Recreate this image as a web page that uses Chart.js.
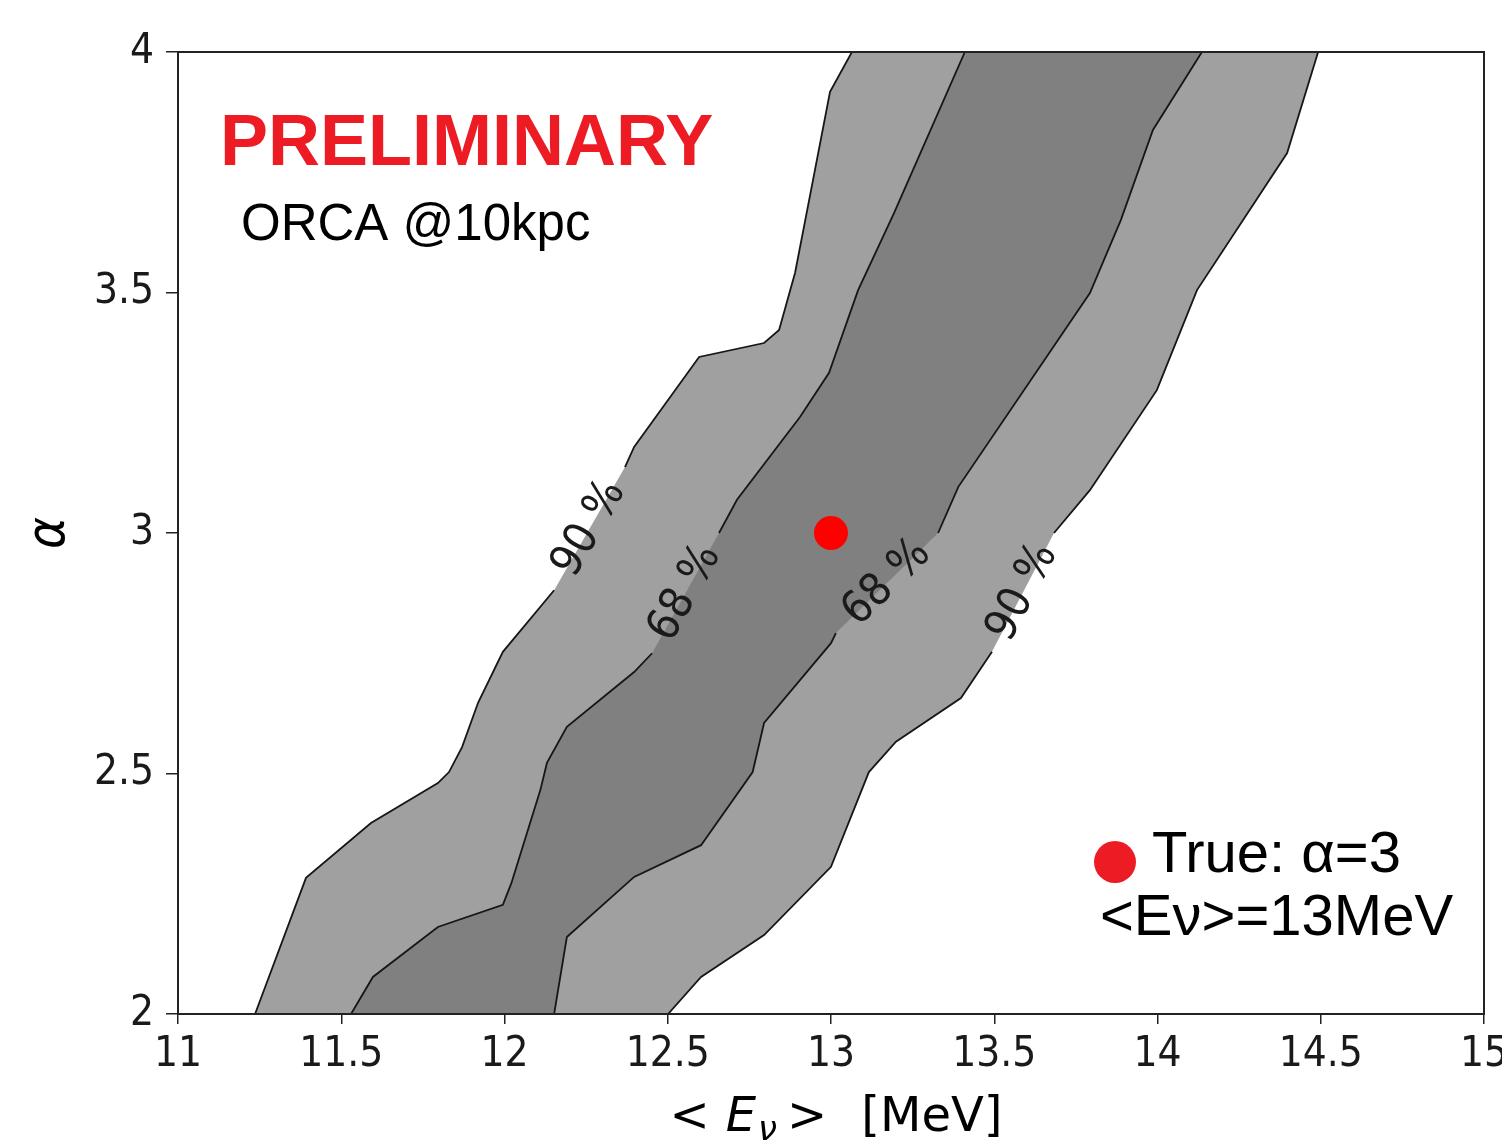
<!DOCTYPE html>
<html>
<head>
<meta charset="utf-8">
<script src="https://cdn.jsdelivr.net/npm/chart.js@4.4.1/dist/chart.umd.min.js"></script>
<style>
    html, body { margin: 0; padding: 0; background: #fff; }
    #contenedor { width: 1502px; height: 1143px; }
</style>
</head>
<body>
<div id="contenedor"><canvas id="graficoContorno"></canvas></div>
<script>
// Contorno 90 % - borde izquierdo (de abajo hacia arriba)
const c90IzqX = [11.236, 11.392, 11.591, 11.796, 11.830, 11.870, 11.919, 11.995, 12.152, 12.369, 12.397, 12.596, 12.795, 12.841, 12.890, 12.945, 12.997, 13.064];
const c90IzqY = [2.000, 2.283, 2.397, 2.480, 2.503, 2.555, 2.647, 2.753, 2.881, 3.137, 3.179, 3.366, 3.395, 3.422, 3.541, 3.734, 3.917, 4.000];
// Contorno 90 % - borde derecho
const c90DerX = [12.501, 12.602, 12.795, 13.000, 13.116, 13.199, 13.398, 13.493, 13.683, 13.793, 13.998, 14.121, 14.397, 14.492];
const c90DerY = [2.000, 2.077, 2.164, 2.306, 2.503, 2.566, 2.657, 2.753, 3.000, 3.089, 3.297, 3.505, 3.790, 4.000];
// Contorno 68 % - borde izquierdo
const c68IzqX = [11.530, 11.597, 11.796, 11.995, 12.021, 12.110, 12.130, 12.191, 12.397, 12.452, 12.657, 12.712, 12.905, 12.994, 13.083, 13.193, 13.410];
const c68IzqY = [2.000, 2.077, 2.181, 2.227, 2.272, 2.466, 2.522, 2.597, 2.711, 2.750, 3.000, 3.069, 3.241, 3.333, 3.505, 3.665, 4.000];
// Contorno 68 % - borde derecho
const c68DerX = [12.152, 12.191, 12.397, 12.602, 12.760, 12.795, 13.000, 13.015, 13.328, 13.390, 13.793, 13.888, 13.986, 14.136];
const c68DerY = [2.000, 2.160, 2.285, 2.351, 2.503, 2.605, 2.771, 2.792, 3.000, 3.096, 3.499, 3.651, 3.838, 4.000];

// Indice donde la linea se corta para la etiqueta
const huecos = [9, 8, 10, 8];        // c90Izq, c90Der, c68Izq, c68Der
const etiquetas = ['90 %', '90 %', '68 %', '68 %'];

// Valor verdadero
const verdadX = [13];
const verdadY = [3];

// Ticks
const ticksX = [11, 11.5, 12, 12.5, 13, 13.5, 14, 14.5, 15];
const ticksY = [2, 2.5, 3, 3.5, 4];

const fuenteEje = '"DejaVu Sans Condensed", "DejaVu Sans", sans-serif';
const fuenteTitulo = '"DejaVu Sans", sans-serif';
const fuenteTexto = '"Liberation Sans", Arial, sans-serif';

const bordes = [
    [c90IzqX, c90IzqY], [c90DerX, c90DerY],
    [c68IzqX, c68IzqY], [c68DerX, c68DerY]
];

function puntos(xs, ys) {
    return xs.map((x, i) => ({ x: x, y: ys[i] }));
}

// Linea con un hueco (null) para dejar sitio a la etiqueta
function puntosConHueco(xs, ys, hueco) {
    const p = puntos(xs, ys);
    p.splice(hueco, 0, { x: null, y: null });
    return p;
}

// Poligono cerrado: borde izquierdo subiendo y borde derecho bajando
function poligono(izqX, izqY, derX, derY) {
    return puntos(izqX, izqY).concat(puntos(derX, derY).reverse());
}

const datasets = [
    {
        label: 'verdad',
        data: puntos(verdadX, verdadY),
        pointRadius: 17,
        pointBackgroundColor: '#ff0000',
        pointBorderWidth: 0,
        order: 0
    }
];

bordes.forEach((b, i) => {
    datasets.push({
        label: 'borde' + i,
        data: puntosConHueco(b[0], b[1], huecos[i]),
        showLine: true,
        spanGaps: false,
        pointRadius: 0,
        borderColor: '#161616',
        borderWidth: 1.8,
        fill: false,
        order: 1
    });
});

datasets.push({
    label: '68',
    data: poligono(c68IzqX, c68IzqY, c68DerX, c68DerY),
    showLine: true,
    pointRadius: 0,
    borderWidth: 0,
    borderColor: 'rgba(0,0,0,0)',
    backgroundColor: '#808080',
    fill: 'shape',
    order: 2
});

datasets.push({
    label: '90',
    data: poligono(c90IzqX, c90IzqY, c90DerX, c90DerY),
    showLine: true,
    pointRadius: 0,
    borderWidth: 0,
    borderColor: 'rgba(0,0,0,0)',
    backgroundColor: '#a0a0a0',
    fill: 'shape',
    order: 3
});

// Etiquetas en linea de los contornos
const etiquetasContorno = {
    id: 'etiquetasContorno',
    afterDatasetsDraw(chart) {
        const ctx = chart.ctx;
        const sx = chart.scales.x, sy = chart.scales.y;
        ctx.save();
        ctx.fillStyle = '#1a1a1a';
        ctx.font = `45px ${fuenteEje}`;
        ctx.textAlign = 'center';
        ctx.textBaseline = 'middle';
        bordes.forEach((b, i) => {
            const h = huecos[i];
            const x1 = sx.getPixelForValue(b[0][h - 1]), y1 = sy.getPixelForValue(b[1][h - 1]);
            const x2 = sx.getPixelForValue(b[0][h]), y2 = sy.getPixelForValue(b[1][h]);
            ctx.save();
            ctx.translate((x1 + x2) / 2, (y1 + y2) / 2);
            ctx.rotate(Math.atan2(y2 - y1, x2 - x1));
            ctx.fillText(etiquetas[i], 0, 0);
            ctx.restore();
        });
        ctx.restore();
    }
};

// Marco, textos y leyenda
const decoracion = {
    id: 'decoracion',
    afterDraw(chart) {
        const ctx = chart.ctx;
        const a = chart.chartArea;
        ctx.save();
        ctx.strokeStyle = '#222';
        ctx.lineWidth = 2;
        ctx.strokeRect(a.left, a.top, a.right - a.left, a.bottom - a.top);

        ctx.textAlign = 'left';
        ctx.textBaseline = 'alphabetic';
        ctx.fillStyle = '#ed1c24';
        ctx.font = `bold 72px ${fuenteTexto}`;
        ctx.fillText('PRELIMINARY', 220, 165);

        ctx.fillStyle = '#000';
        ctx.font = `51px ${fuenteTexto}`;
        ctx.fillText('ORCA @10kpc', 241, 240);

        // leyenda
        ctx.fillStyle = '#ed1c24';
        ctx.beginPath();
        ctx.arc(1115, 862, 21, 0, Math.PI * 2);
        ctx.fill();
        ctx.fillStyle = '#000';
        ctx.font = `58px ${fuenteTexto}`;
        ctx.fillText('True: α=3', 1152, 872);
        ctx.fillText('<Eν>=13MeV', 1100, 935);

        // titulo del eje x: < E_ν >  [MeV]
        const partes = [
            { t: '<', f: `48px ${fuenteTitulo}`, dy: 0, sep: 16 },
            { t: 'E', f: `italic 48px ${fuenteTitulo}`, dy: 0, sep: 2 },
            { t: 'ν', f: `italic 34px ${fuenteTitulo}`, dy: 9, sep: 10 },
            { t: '>', f: `48px ${fuenteTitulo}`, dy: 0, sep: 34 },
            { t: '[MeV]', f: `48px ${fuenteTitulo}`, dy: 0, sep: 0 }
        ];
        let total = 0;
        partes.forEach(p => { ctx.font = p.f; p.w = ctx.measureText(p.t).width; total += p.w + p.sep; });
        let x = (a.left + a.right) / 2 - total / 2 + 5;
        partes.forEach(p => {
            ctx.font = p.f;
            ctx.fillText(p.t, x, 1131 + p.dy);
            x += p.w + p.sep;
        });
        ctx.restore();
    }
};

const ejeComun = {
    type: 'linear',
    grid: { drawOnChartArea: false, drawTicks: true, color: '#222', lineWidth: 1.5 },
    border: { display: true, color: '#222', width: 2 }
};

new Chart(document.getElementById('graficoContorno').getContext('2d'), {
    type: 'scatter',
    data: { datasets: datasets },
    options: {
        responsive: true,
        maintainAspectRatio: false,
        animation: false,
        layout: { padding: { top: 52, right: 18, left: 0, bottom: 0 } },
        plugins: {
            legend: { display: false },
            tooltip: { enabled: false }
        },
        scales: {
            x: {
                ...ejeComun,
                min: 11,
                max: 15,
                grid: { ...ejeComun.grid, tickLength: 10 },
                afterBuildTicks: scale => { scale.ticks = ticksX.map(v => ({ value: v })); },
                afterFit: scale => {
                    scale.height = 129;
                    scale.paddingLeft = 0;
                    scale.paddingRight = 0;
                },
                ticks: {
                    callback: v => String(v),
                    font: { family: fuenteEje, size: 42 },
                    color: '#1a1a1a',
                    padding: 6,
                    maxRotation: 0,
                    autoSkip: false
                }
            },
            y: {
                ...ejeComun,
                min: 2,
                max: 4,
                grid: { ...ejeComun.grid, tickLength: 12 },
                afterBuildTicks: scale => { scale.ticks = ticksY.map(v => ({ value: v })); },
                afterFit: scale => {
                    scale.width = 178;
                    scale.paddingTop = 0;
                    scale.paddingBottom = 0;
                },
                ticks: {
                    callback: v => String(v),
                    font: { family: fuenteEje, size: 42 },
                    color: '#1a1a1a',
                    padding: 12,
                    autoSkip: false
                },
                title: {
                    display: true,
                    text: 'α',
                    font: { family: fuenteEje, size: 54, style: 'italic' },
                    color: '#000',
                    padding: { top: 18, bottom: 0 }
                }
            }
        }
    },
    plugins: [etiquetasContorno, decoracion]
});
</script>
</body>
</html>
